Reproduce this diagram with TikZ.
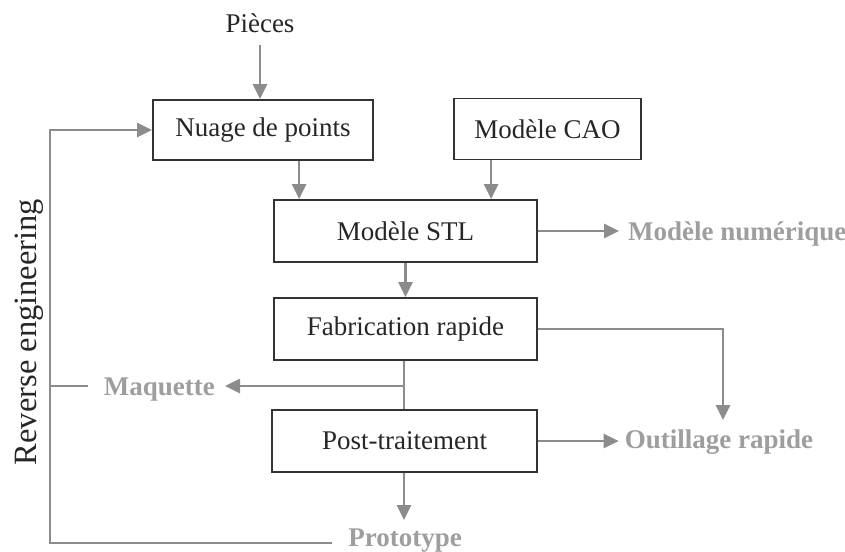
\documentclass[tikz,border=0pt]{standalone}
\usepackage{fontspec}
\setmainfont{Liberation Serif}
\usetikzlibrary{arrows.meta}
\definecolor{linegray}{HTML}{8C8C8C}
\definecolor{labgray}{HTML}{9E9E9E}
\definecolor{boxline}{HTML}{333333}
\begin{document}
\begin{tikzpicture}[x=1pt,y=-1pt,
  box/.style={draw=boxline,line width=1.8pt,minimum height=62pt,inner sep=0pt,font=\fontsize{27}{31}\selectfont,text=black!85},
  lab/.style={font=\fontsize{27}{31}\selectfont\bfseries,text=labgray,inner sep=2pt},
  arr/.style={draw=linegray,line width=2.6pt,-{Triangle[length=15pt,width=14pt]}},
  thin/.style={draw=linegray,line width=1.4pt}]
\useasboundingbox (0,0) rectangle (845,551);
\node[font=\fontsize{27}{31}\selectfont,text=black!85,inner sep=2pt,anchor=base] (pieces) at (260,33) {Pièces};
\node[box,minimum width=220pt,minimum height=60pt] (nuage) at (263,130) {Nuage de points};
\node[box,minimum width=187pt,minimum height=61pt] (cao) at (547.5,129) {Modèle CAO};
\node[box,minimum width=263pt] (stl) at (405.5,231) {Modèle STL};
\node[box,minimum width=263pt] (fab) at (405.5,329) {Fabrication rapide};
\node[box,minimum width=265pt] (post) at (404.5,441) {Post-traitement};
\node[lab,anchor=base west] (num) at (626,240) {Modèle numérique};
\node[lab,anchor=base] (outil) at (719,448) {Outillage rapide};
\node[lab,anchor=base east] (maq) at (217,395) {Maquette};
\node[lab,anchor=base] (proto) at (405,546) {Prototype};
\node[font=\fontsize{32.5}{36}\selectfont,text=black!85,rotate=90,inner sep=0pt] (rev) at (29,332) {Reverse engineering};
\coordinate (lx) at (50,0);
\coordinate (j) at (404,386);
\coordinate (fr) at (723,329);
\coordinate (pl) at (332,543);
% connectors
\draw[arr] ([yshift=-10pt]pieces.south) -- (pieces.south |- nuage.north);
\draw[arr] ([xshift=147pt]nuage.south west) -- ([xshift=147pt]nuage.south west |- stl.north);
\draw[arr] ([xshift=38pt]cao.south west) -- ([xshift=38pt]cao.south west |- stl.north);
\draw[arr] (stl.east) -- ([xshift=-7pt]num.west |- stl.east);
\draw[arr] (stl.south) -- (fab.north);
\draw[arr] (fab.east) -- (fr) -- ([yshift=7pt]fr |- outil.north);
\draw[arr] (post.east) -- ([xshift=-4pt]outil.west |- post.east);
\draw[thin] (fab.south -| j) -- (post.north -| j);
\draw[arr] (j) -- ([xshift=8pt]maq.east |- j);
\draw[arr] (post.south -| j) -- ([yshift=6pt]proto.north -| j);
\draw[arr] (pl) -| (lx |- nuage.west) -- (nuage.west);
\draw[thin] (lx |- j) -- ([xshift=-14pt]maq.west |- j);
\end{tikzpicture}
\end{document}
